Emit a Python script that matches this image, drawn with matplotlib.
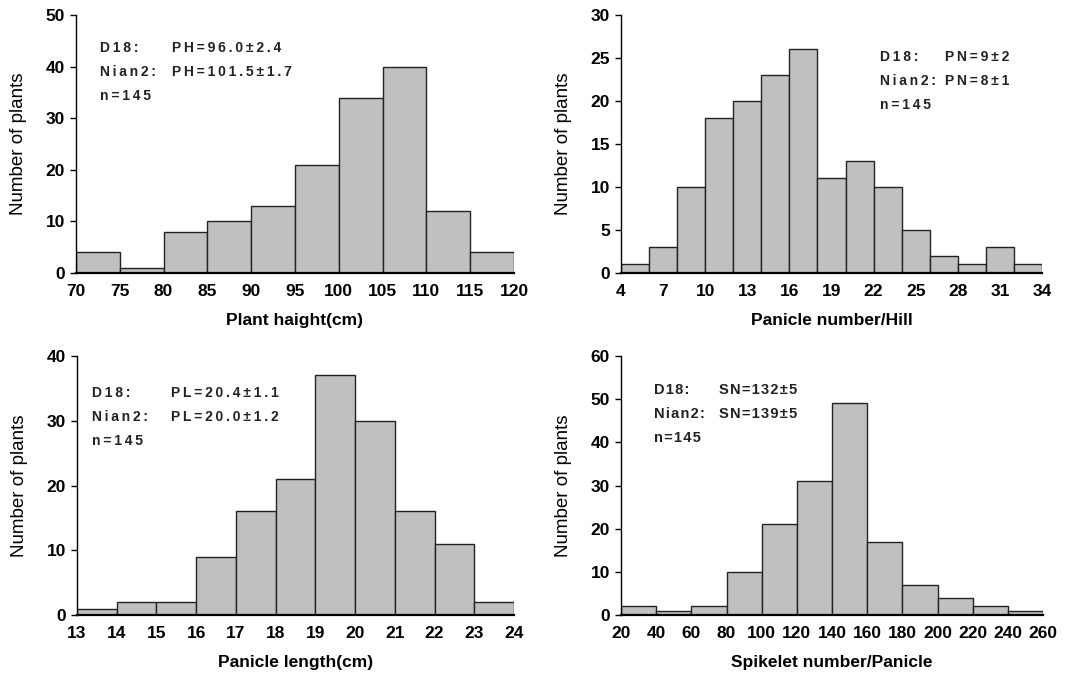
import numpy as np
import matplotlib.pyplot as plt

plt.rcParams['font.family'] = ['Liberation Sans', 'DejaVu Sans']

# data
ph_edges = [70, 75, 80, 85, 90, 95, 100, 105, 110, 115, 120]
ph_counts = [4, 1, 8, 10, 13, 21, 34, 40, 12, 4]
ph_ticks = [70, 75, 80, 85, 90, 95, 100, 105, 110, 115, 120]

pn_edges = [4, 6, 8, 10, 12, 14, 16, 18, 20, 22, 24, 26, 28, 30, 32, 34]
pn_counts = [1, 3, 10, 18, 20, 23, 26, 11, 13, 10, 5, 2, 1, 3, 1]
pn_ticks = [4, 7, 10, 13, 16, 19, 22, 25, 28, 31, 34]

pl_edges = [13, 14, 15, 16, 17, 18, 19, 20, 21, 22, 23, 24]
pl_counts = [1, 2, 2, 9, 16, 21, 37, 30, 16, 11, 2]
pl_ticks = [13, 14, 15, 16, 17, 18, 19, 20, 21, 22, 23, 24]

sn_edges = [20, 40, 60, 80, 100, 120, 140, 160, 180, 200, 220, 240, 260]
sn_counts = [2, 1, 2, 10, 21, 31, 49, 17, 7, 4, 2, 1]
sn_ticks = [20, 40, 60, 80, 100, 120, 140, 160, 180, 200, 220, 240, 260]

W, H = 1078, 678


def spaced(s, sep):
    # the original text is letter-spaced
    return sep.join(s)


def panel(box, edges, counts, ticks, ymax, ystep, xlabel, notes, note_xy,
          sep='\u2009', nsize=10):
    x0, x1, ytop, ybot = box
    ax = fig.add_axes([x0 / W, 1 - ybot / H, (x1 - x0) / W, (ybot - ytop) / H])
    edges = np.array(edges)
    ax.bar(edges[:-1], counts, width=np.diff(edges), align='edge',
           color='#c0c0c0', edgecolor='#222222', linewidth=1.0)
    ax.set_xlim(edges[0], edges[-1])
    ax.set_ylim(0, ymax)
    ax.set_xticks(ticks)
    ax.set_yticks(np.arange(0, ymax + 1, ystep))
    for s in ['top', 'right']:
        ax.spines[s].set_visible(False)
    ax.spines['left'].set_linewidth(1.0)
    ax.spines['bottom'].set_linewidth(1.6)
    ax.tick_params(axis='x', length=0, pad=8, labelsize=12.5)
    ax.tick_params(axis='y', length=4, width=1, direction='out', pad=4, labelsize=12.5)
    for lab in ax.get_xticklabels() + ax.get_yticklabels():
        lab.set_fontweight('bold')
    ax.set_xlabel(xlabel, fontsize=12.5, fontweight='bold', labelpad=10)
    ax.set_ylabel('Number of plants', fontsize=13.5, labelpad=13)
    lx, vx, ly = note_xy
    for i, (a, b) in enumerate(notes):
        y = 1 - (ly + 24 * i) / H
        fig.text(lx / W, y, spaced(a, sep), fontsize=nsize, fontweight='bold',
                 color='#222222', va='center')
        if b:
            fig.text(vx / W, y, spaced(b, sep), fontsize=nsize, fontweight='bold',
                     color='#222222', va='center')
    return ax


fig = plt.figure(figsize=(W / 100, H / 100), dpi=100)

panel((76, 514, 15, 273), ph_edges, ph_counts, ph_ticks, 50, 10,
      'Plant haight(cm)',
      [('D18:', 'PH=96.0±2.4'), ('Nian2:', 'PH=101.5±1.7'), ('n=145', '')],
      (100, 172, 48))
panel((621, 1042, 15, 273), pn_edges, pn_counts, pn_ticks, 30, 5,
      'Panicle number/Hill',
      [('D18:', 'PN=9±2'), ('Nian2:', 'PN=8±1'), ('n=145', '')],
      (880, 945, 57))
panel((77, 514, 356, 615), pl_edges, pl_counts, pl_ticks, 40, 10,
      'Panicle length(cm)',
      [('D18:', 'PL=20.4±1.1'), ('Nian2:', 'PL=20.0±1.2'), ('n=145', '')],
      (92, 171, 393))
panel((621, 1043, 356, 615), sn_edges, sn_counts, sn_ticks, 60, 10,
      'Spikelet number/Panicle',
      [('D18:', 'SN=132±5'), ('Nian2:', 'SN=139±5'), ('n=145', '')],
      (654, 719, 390), sep='\u200a', nsize=10.5)

fig.savefig('out.png', dpi=100)
